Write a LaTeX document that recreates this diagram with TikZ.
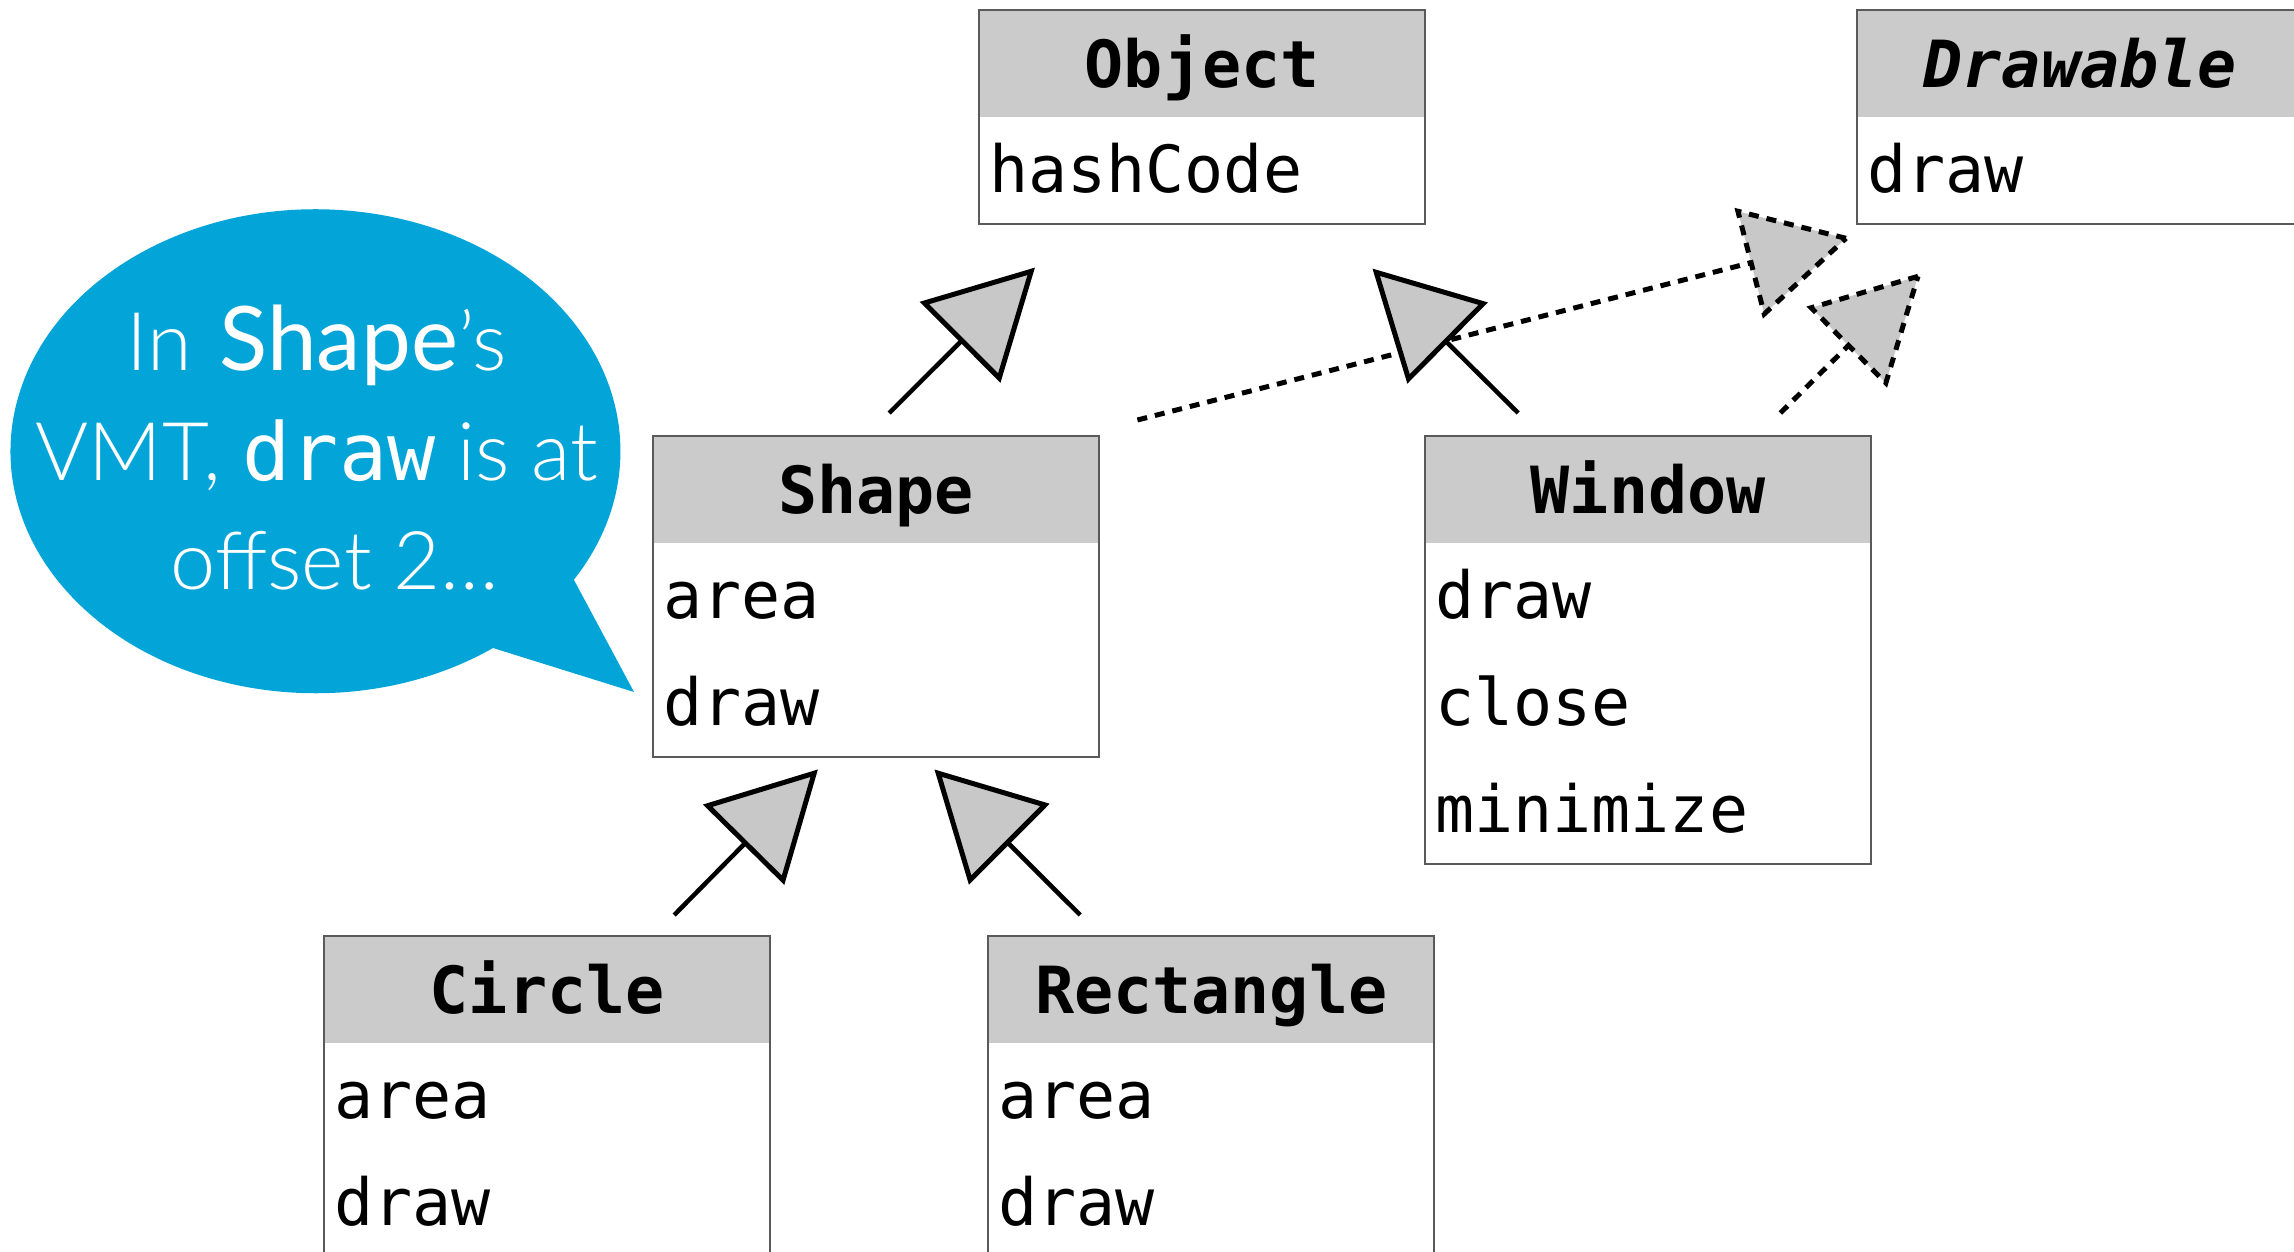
\documentclass[tikz,border=0pt]{standalone}
\usepackage{fontspec}
\usetikzlibrary{calc}
\newfontfamily\monof{DejaVu Sans Mono}
\newfontfamily\bubl{Lato Light}
\newfontfamily\bubr{Lato}
\definecolor{hdrgray}{RGB}{203,203,203}
\definecolor{trigray}{RGB}{200,200,200}
\definecolor{boxline}{RGB}{90,90,90}
\definecolor{bubblue}{RGB}{3,165,216}
\tikzset{
  hdr/.style={anchor=north west, fill=hdrgray, inner xsep=10pt, inner ysep=0pt,
    text width=426pt, align=center, text height=77pt, text depth=30pt,
    font=\monof\bfseries\fontsize{65pt}{78pt}\selectfont},
  row/.style={anchor=north west, inner xsep=10pt, inner ysep=0pt,
    text width=426pt, align=left, text height=75pt, text depth=31.5pt,
    font=\monof\fontsize{65pt}{78pt}\selectfont},
  outline/.style={draw=boxline, line width=2pt},
  solidrel/.style={line width=4.5pt, draw=black},
  dashrel/.style={line width=5pt, draw=black, dash pattern=on 10pt off 8pt},
}
\newcommand\inharrow[3]{%
  \coordinate (T) at (#3);
  \coordinate (B) at ($(#3)!98pt!(#2)$);
  \draw[#1] (#2) -- (B);
  \draw[#1, line width=5pt, fill=trigray] (T) -- ($(B)!53pt!90:(T)$) -- ($(B)!53pt!-90:(T)$) -- cycle;
}
\begin{document}
\begin{tikzpicture}[x=1pt,y=1pt]
\useasboundingbox (0,0) rectangle (2294,-1251);
\fill[white] (0,0) rectangle (2294,-1251);
\begin{scope}
\clip (0,0) rectangle (2294,-1251);

% speech bubble
\fill[bubblue] (574,-580) -- (634,-692) -- (493,-648)
  arc[start angle=-54.4, end angle=-392.2, x radius=305pt, y radius=242pt] -- cycle;
\node[text=white, align=center, inner sep=0pt,
  font=\bubl\fontsize{81pt}{109.5pt}\selectfont] (note) at (317,-448)
  {In\hspace{6pt} {\bubr\fontsize{89pt}{109.5pt}\selectfont Shape}’s\\VMT, {\monof\fontsize{80pt}{109.5pt}\selectfont draw} is at\\\hspace*{36pt}offset 2…};

% Object
\node[hdr] (object) at (979,-10) {Object};
\node[row] (object-1) at (object.south west) {hashCode};
\draw[outline] (object.north west) rectangle (object-1.south east);

% Drawable
\node[hdr, font=\monof\bfseries\itshape\fontsize{65pt}{78pt}\selectfont] (drawable) at (1857,-10) {Drawable};
\node[row] (drawable-1) at (drawable.south west) {draw};
\draw[outline] (drawable.north west) rectangle (drawable-1.south east);

% Shape
\node[hdr] (shape) at (653,-436) {Shape};
\node[row] (shape-1) at (shape.south west) {area};
\node[row] (shape-2) at (shape-1.south west) {draw};
\draw[outline] (shape.north west) rectangle (shape-2.south east);

% Window
\node[hdr] (window) at (1425,-436) {Window};
\node[row] (window-1) at (window.south west) {draw};
\node[row] (window-2) at (window-1.south west) {close};
\node[row] (window-3) at (window-2.south west) {minimize};
\draw[outline] (window.north west) rectangle (window-3.south east);

% Circle
\node[hdr] (circle) at (324,-936) {Circle};
\node[row] (circle-1) at (circle.south west) {area};
\node[row] (circle-2) at (circle-1.south west) {draw};
\draw[outline] (circle.north west) rectangle (circle-2.south east);

% Rectangle
\node[hdr] (rectangle) at (988,-936) {Rectangle};
\node[row] (rectangle-1) at (rectangle.south west) {area};
\node[row] (rectangle-2) at (rectangle-1.south west) {draw};
\draw[outline] (rectangle.north west) rectangle (rectangle-2.south east);

% connector end points
\coordinate (shapeUp) at ($(shape.north)+(13,23)$);
\coordinate (objTipL) at ($(object-1.south)+(-171,-47)$);
\coordinate (winUp) at ($(window.north)+(-130,23)$);
\coordinate (objTipR) at ($(object-1.south)+(174,-48)$);
\coordinate (shapeRight) at ($(shape.north east)+(38,16)$);
\coordinate (drwTipL) at ($(drawable-1.south west)+(-11,-14)$);
\coordinate (winRight) at ($(window.north east)+(-91,23)$);
\coordinate (drwTipR) at ($(drawable-1.south west)+(61,-52)$);
\coordinate (circUp) at ($(circle.north)+(127,21)$);
\coordinate (shpTipL) at ($(shape-2.south)+(-62,-16)$);
\coordinate (rectUp) at ($(rectangle.north)+(-131,21)$);
\coordinate (shpTipR) at ($(shape-2.south)+(62,-16)$);

\inharrow{dashrel}{shapeRight}{drwTipL}
\inharrow{dashrel}{winRight}{drwTipR}
\inharrow{solidrel}{shapeUp}{objTipL}
\inharrow{solidrel}{winUp}{objTipR}
\inharrow{solidrel}{circUp}{shpTipL}
\inharrow{solidrel}{rectUp}{shpTipR}
\end{scope}
\end{tikzpicture}
\end{document}
